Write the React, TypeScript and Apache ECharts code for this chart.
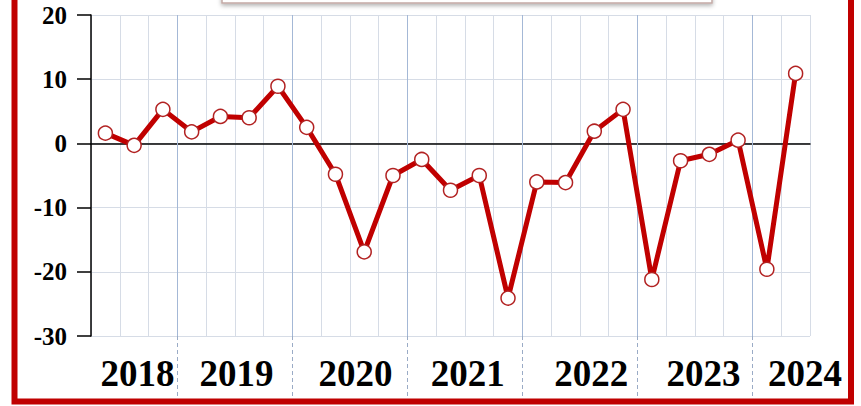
import React, { useEffect, useRef } from "react";
import * as echarts from "echarts";

// Quarterly values, 2018 Q2 .. 2024 Q2
const quarters: string[] = [
  "2018Q2", "2018Q3", "2018Q4",
  "2019Q1", "2019Q2", "2019Q3", "2019Q4",
  "2020Q1", "2020Q2", "2020Q3", "2020Q4",
  "2021Q1", "2021Q2", "2021Q3", "2021Q4",
  "2022Q1", "2022Q2", "2022Q3", "2022Q4",
  "2023Q1", "2023Q2", "2023Q3", "2023Q4",
  "2024Q1", "2024Q2",
];
const values: number[] = [
  1.6, -0.3, 5.3,
  1.8, 4.2, 4.0, 8.9,
  2.5, -4.8, -16.9, -5.0,
  -2.5, -7.3, -5.0, -24.1,
  -6.0, -6.1, 1.9, 5.3,
  -21.2, -2.7, -1.7, 0.5,
  -19.6, 10.9,
];
const years: string[] = ["2018", "2019", "2020", "2021", "2022", "2023", "2024"];
// where each year label sits along the quarter axis (in quarter units)
const yearLabelAt: number[] = [1.62, 5.06, 9.2, 13.1, 17.39, 21.3, 24.83];
// boundaries between years (in quarter units)
const yearBoundaries: number[] = [3, 7, 11, 15, 19, 23];
const yTicks: number[] = [-30, -20, -10, 0, 10, 20];

const SERIF = "'Liberation Serif', 'Times New Roman', serif";

export default function App() {
  const ref = useRef<HTMLDivElement>(null);

  useEffect(() => {
    if (!ref.current) return;
    const chart = echarts.init(ref.current, null, { renderer: "svg" });
    const n = quarters.length;
    const data = values.map((v, i) => [i + 0.5, v]);

    chart.setOption({
      animation: false,
      backgroundColor: "#ffffff",
      grid: {
        left: 91,
        right: 51,
        top: 15,
        bottom: 70,
        containLabel: false,
        outerBoundsMode: "none",
      },
      xAxis: [
        {
          type: "value",
          min: 0,
          max: n,
          interval: 1,
          position: "bottom",
          axisLine: { show: true, onZero: true, lineStyle: { color: "#000", width: 1.5 } },
          axisTick: { show: false },
          axisLabel: { show: false },
          splitLine: { show: true, lineStyle: { color: "#d6dce6", width: 1 } },
        },
        {
          type: "value",
          min: 0,
          max: n,
          position: "bottom",
          axisLine: { show: false, onZero: false },
          axisTick: {
            show: true,
            customValues: yearBoundaries,
            length: 64,
            inside: false,
            lineStyle: { color: "#9aabc6", width: 1, type: [4, 3] },
          },
          axisLabel: {
            show: true,
            customValues: yearLabelAt,
            formatter: (v: number) => {
              const idx = yearLabelAt.findIndex((p) => Math.abs(p - v) < 1e-6);
              return idx >= 0 ? years[idx] : "";
            },
            margin: 19,
            color: "#000",
            fontFamily: SERIF,
            fontWeight: "bold",
            fontSize: 37,
          },
          splitLine: { show: false },
        },
      ],
      yAxis: {
        type: "value",
        min: yTicks[0],
        max: yTicks[yTicks.length - 1],
        interval: 10,
        axisLine: { show: true, onZero: false, lineStyle: { color: "#000", width: 1.5 } },
        axisTick: { show: true, length: 14, lineStyle: { color: "#000", width: 1.5 } },
        axisLabel: {
          color: "#000",
          fontFamily: SERIF,
          fontWeight: "bold",
          fontSize: 25,
          margin: 24,
        },
        splitLine: { show: true, lineStyle: { color: "#d6dce6", width: 1 } },
      },
      series: [
        {
          type: "line",
          data,
          xAxisIndex: 0,
          yAxisIndex: 0,
          lineStyle: { color: "#C00000", width: 5 },
          itemStyle: { color: "#ffffff", borderColor: "#b22222", borderWidth: 1.5 },
          symbol: "circle",
          symbolSize: 14,
          showAllSymbol: true,
          z: 5,
          markLine: {
            silent: true,
            symbol: "none",
            label: { show: false },
            lineStyle: { color: "#a4b8d6", width: 1, type: "solid" },
            data: yearBoundaries.map((b) => ({ xAxis: b })),
            z: 1,
          },
        },
      ],
      graphic: [
        {
          type: "rect",
          shape: { x: 222, y: -40, width: 490, height: 43 },
          style: {
            fill: "#ffffff",
            stroke: "#c4a9a5",
            lineWidth: 1.5,
            shadowBlur: 4,
            shadowOffsetY: 2,
            shadowColor: "rgba(0,0,0,0.3)",
          },
          z: 10,
        },
        {
          type: "rect",
          shape: { x: 14.5, y: -20, width: 836.5, height: 421.5 },
          style: { fill: "none", stroke: "#C00000", lineWidth: 6 },
          z: 10,
        },
      ],
    });

    return () => chart.dispose();
  }, []);

  return (
    <div
      ref={ref}
      style={{ position: "fixed", left: 0, top: 0, width: 861, height: 406 }}
    />
  );
}
